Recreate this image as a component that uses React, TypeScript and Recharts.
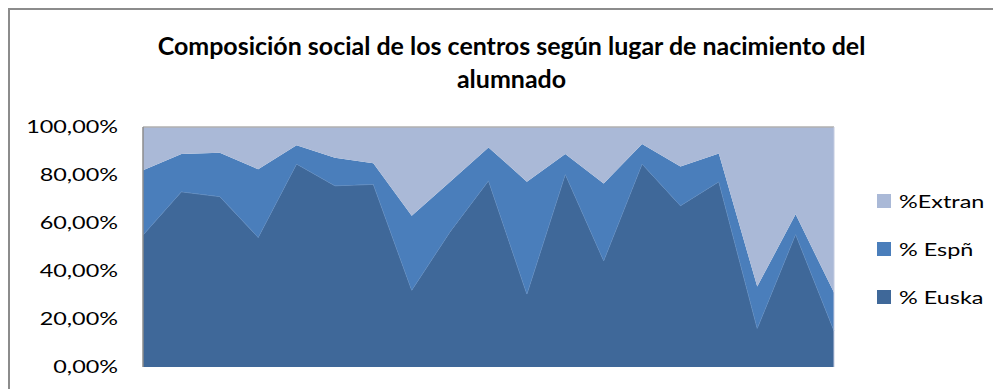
import React from 'react'
import { AreaChart, Area, XAxis, YAxis, ReferenceLine } from 'recharts'

// 19 centros (en %)
const centros = ['C1', 'C2', 'C3', 'C4', 'C5', 'C6', 'C7', 'C8', 'C9', 'C10', 'C11', 'C12', 'C13', 'C14', 'C15', 'C16', 'C17', 'C18', 'C19']
const euska = [55, 73, 71, 54, 84.6, 75.5, 76.1, 32, 56.4, 77.6, 30.4, 80.3, 44.3, 84.6, 67.2, 77.2, 16.1, 55.3, 15.1]
const espn = [27, 15.8, 18.3, 28.4, 7.8, 11.7, 8.8, 31, 20.8, 13.9, 46.8, 8.5, 32.2, 8.3, 16.3, 11.8, 17.4, 8.3, 15.9]
const extran = [18, 11.2, 10.7, 17.6, 7.6, 12.8, 15.1, 37, 22.8, 8.5, 22.8, 11.2, 23.5, 7.1, 16.5, 11, 66.5, 36.4, 69]
const yTicks = [0, 20, 40, 60, 80, 100]

const COLORS = { euska: '#3f6899', espn: '#4a7ebb', extran: '#aab9d7' }
const FONT = 'Lato, "Open Sans", sans-serif'

const data = centros.map((c, i) => ({ centro: c, euska: euska[i], espn: espn[i], extran: extran[i] }))

const fmt = (v: number) => v.toFixed(2).replace('.', ',') + '%'

function YTick({ x, y, payload }: any) {
  return (
    <g transform={`translate(${x},${y}) scale(1.3,1)`}>
      <text x={0} y={0} dy={6} textAnchor="end" fontFamily={FONT} fontSize={18} fill="#000">
        {fmt(payload.value)}
      </text>
    </g>
  )
}

const legendItems = [
  { name: '%Extran', color: COLORS.extran },
  { name: '% Espñ', color: COLORS.espn },
  { name: '% Euska', color: COLORS.euska },
]

export default function App() {
  return (
    <div style={{ position: 'relative', width: 993, height: 381, borderTop: '2px solid #8c8c8c', borderLeft: '2px solid #8c8c8c', boxSizing: 'border-box', fontFamily: FONT }}>
      <div style={{ position: 'absolute', left: 0, top: 19, width: 1003, textAlign: 'center', fontWeight: 700, fontSize: 24, lineHeight: '33px', color: '#000', transform: 'scaleX(1.04)' }}>
        Composición social de los centros según lugar de nacimiento del
        <br />
        alumnado
      </div>
      <AreaChart width={993} height={381} data={data} margin={{ top: 119, right: 167, bottom: 22, left: 0 }} style={{ position: 'absolute', left: -2, top: -2 }}>
        <XAxis dataKey="centro" tick={false} tickLine={false} axisLine={{ stroke: '#8c8c8c', strokeWidth: 2 }} height={0} padding={{ left: 0, right: 0 }} />
        <YAxis type="number" domain={[0, 100]} ticks={yTicks} width={135} tick={<YTick />} tickLine={false} tickSize={0} tickMargin={25} axisLine={{ stroke: '#8c8c8c', strokeWidth: 1.5 }} interval={0} />
        <Area type="linear" dataKey="euska" stackId="1" fill={COLORS.euska} fillOpacity={1} stroke="#6b93c4" strokeWidth={0.8} isAnimationActive={false} />
        <Area type="linear" dataKey="espn" stackId="1" fill={COLORS.espn} fillOpacity={1} stroke="none" isAnimationActive={false} />
        <Area type="linear" dataKey="extran" stackId="1" fill={COLORS.extran} fillOpacity={1} stroke="none" isAnimationActive={false} />
        <ReferenceLine y={100} stroke="#b0b0b0" strokeWidth={1.5} />
        <ReferenceLine x="C19" stroke="#c4cbe0" strokeWidth={1} />
      </AreaChart>
      <div style={{ position: 'absolute', left: 867, top: 167 }}>
        {legendItems.map(item => (
          <div key={item.name} style={{ display: 'flex', alignItems: 'center', height: 48 }}>
            <span style={{ width: 14, height: 14, background: item.color, display: 'inline-block', marginRight: 8 }} />
            <span style={{ fontSize: 18, color: '#000', display: 'inline-block', transform: 'scaleX(1.3)', transformOrigin: 'left center' }}>{item.name}</span>
          </div>
        ))}
      </div>
    </div>
  )
}
